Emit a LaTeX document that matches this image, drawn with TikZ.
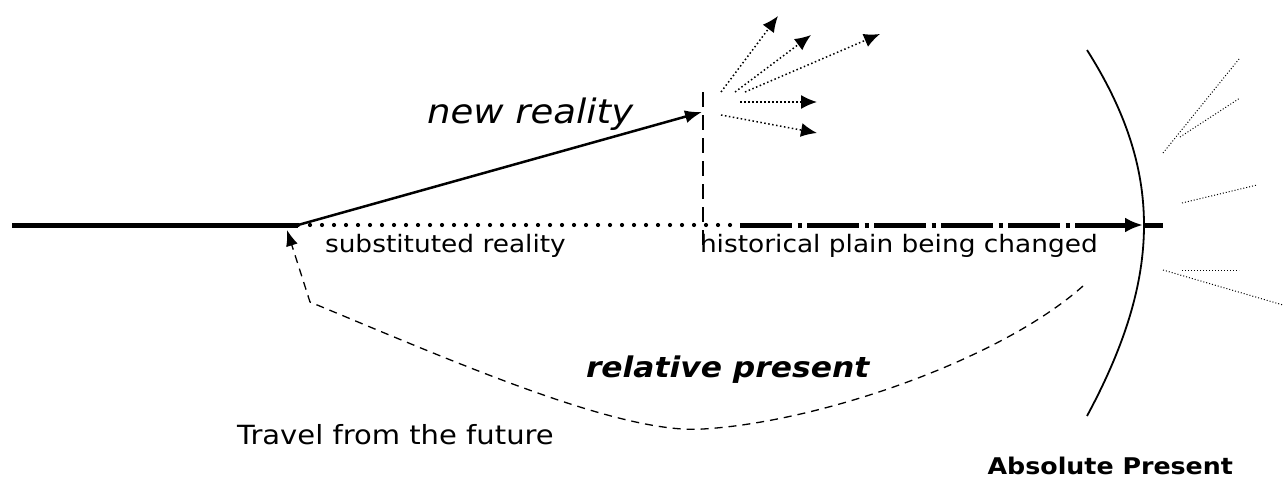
\documentclass[tikz,border=0pt]{standalone}
\usepackage{fontspec}
\setmainfont{DejaVu Sans}
\usetikzlibrary{arrows.meta}
\newcommand{\wtext}[2]{\scalebox{1.1}[1]{\fontsize{#1}{#1}\selectfont #2}}
\tikzset{
  lbl/.style={inner sep=0pt, outer sep=0pt, anchor=base west},
  thickline/.style={line width=5pt},
  dotline/.style={line width=4.2pt, line cap=round, dash pattern=on 0pt off 12pt},
  dashdotline/.style={line width=5pt, dash pattern=on 52pt off 5.5pt on 4pt off 5.5pt},
  fan/.style={line width=1.5pt, dash pattern=on 1.5pt off 2.5pt, -{Latex[length=16pt,width=14pt]}},
  ray/.style={line width=1pt, dash pattern=on 1pt off 2pt},
  travelline/.style={line width=1.3pt, dash pattern=on 8pt off 6pt},
}
\begin{document}
\begin{tikzpicture}[x=1pt,y=-1pt]
\useasboundingbox (0,0) rectangle (1285,479);
% coordinates
\coordinate (start) at (12,225);
\coordinate (split) at (298,225);
\coordinate (dashstart) at (740,225);
\coordinate (present) at (1143,225);
\coordinate (lineend) at (1163,225);
\coordinate (branch) at (702,112);
\coordinate (vtop) at (703,92);
\coordinate (vbot) at (703,250);
% main historical line
\draw[thickline] (start) -- (split);
\draw[dotline] (split) -- (dashstart);
\draw[dashdotline, -{Latex[length=18pt,width=15pt]}] (dashstart) -- (present);
\draw[thickline] (present) -- (lineend);
% new reality
\draw[line width=2.5pt, -{Latex[length=17pt,width=13pt]}] (split) -- (branch);
\draw[line width=1.5pt, dash pattern=on 15pt off 8pt] (vtop) -- (vbot);
% fan of possibilities
\coordinate (f1s) at (721,92);  \coordinate (f1e) at (778,16);
\coordinate (f2s) at (735,92);  \coordinate (f2e) at (811,35);
\coordinate (f3s) at (745,92);  \coordinate (f3e) at (880,34);
\coordinate (f4s) at (740,102); \coordinate (f4e) at (817,102);
\coordinate (f5s) at (721,115); \coordinate (f5e) at (817,133);
\draw[fan] (f1s) -- (f1e);
\draw[fan] (f2s) -- (f2e);
\draw[fan] (f3s) -- (f3e);
\draw[fan] (f4s) -- (f4e);
\draw[fan] (f5s) -- (f5e);
% absolute present curve
\coordinate (atop) at (1087,50);
\coordinate (abot) at (1087,416);
\draw[line width=1.8pt] (atop) .. controls (1163,170) and (1163,275) .. (abot);
% rays on the right
\coordinate (r1s) at (1163,153); \coordinate (r1e) at (1239,59);
\coordinate (r2s) at (1180,137); \coordinate (r2e) at (1240,98);
\coordinate (r3s) at (1182,203); \coordinate (r3e) at (1257,185);
\coordinate (r4s) at (1182,270); \coordinate (r4e) at (1239,270);
\coordinate (r5s) at (1163,270); \coordinate (r5e) at (1283,305);
\draw[ray] (r1s) -- (r1e);
\draw[ray] (r2s) -- (r2e);
\draw[ray] (r3s) -- (r3e);
\draw[ray] (r4s) -- (r4e);
\draw[ray] (r5s) -- (r5e);
% travel from the future
\coordinate (tstart) at (1083,286);
\coordinate (tlow) at (703,429);
\coordinate (tcorner) at (310,302);
\coordinate (ttip) at (287,230);
\draw[travelline, -{Latex[length=16pt,width=12pt]}] (tstart) .. controls (1000,360) and (820,422) .. (tlow)
   .. controls (620,435) and (450,360) .. (tcorner) -- (ttip);
% labels
\node[lbl] (newreal) at (427,123) {\wtext{33.7pt}{\itshape new reality}};
\node[lbl] (subst) at (325,252) {\wtext{24pt}{substituted reality}};
\node[lbl] (hist) at (700,252) {\wtext{24pt}{historical plain being changed}};
\node[lbl] (relpres) at (586,377) {\wtext{28.5pt}{\bfseries\itshape relative present}};
\node[lbl] (travel) at (237,444) {\wtext{26.4pt}{Travel from the future}};
\node[lbl, anchor=base east] (absolute) at (1233,474) {\wtext{23pt}{\bfseries Absolute Present}};
\end{tikzpicture}
\end{document}
